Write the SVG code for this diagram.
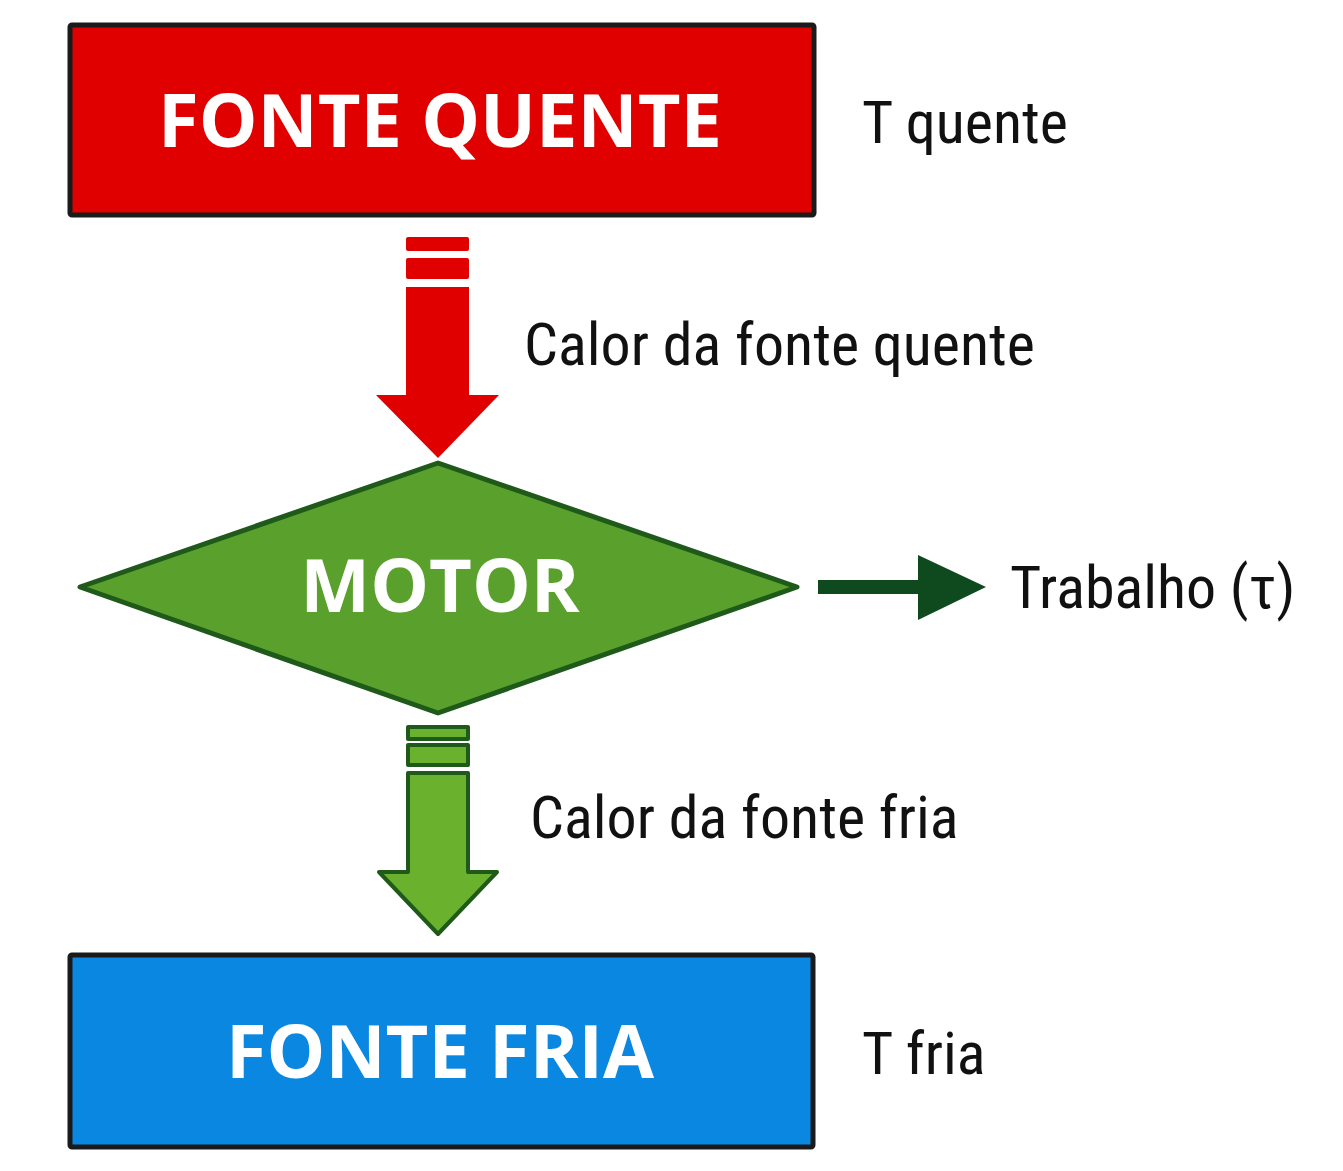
<svg xmlns="http://www.w3.org/2000/svg" width="1343" height="1171" viewBox="0 0 1343 1171">
<style>
.lbl{font-family:"Roboto Condensed","Liberation Sans Narrow","Liberation Sans",sans-serif;font-size:60px;fill:#111}
.nd{font-family:"Open Sans","Liberation Sans",sans-serif;font-weight:bold;fill:#fff;text-anchor:middle}
</style>
<rect width="1343" height="1171" fill="#fff"/>
<g id="fonte-quente">
<rect x="70" y="25" width="744" height="190" fill="#e00000" stroke="#1a1a1a" stroke-width="5" rx="2"/>
<text class="nd" x="440" y="147" font-size="74">FONTE QUENTE</text>
</g>
<g id="motor">
<polygon points="438,463 797,587 438,713 80,587" fill="#5aa02c" stroke="#1f5a1a" stroke-width="5" stroke-linejoin="round"/>
<text class="nd" x="440" y="612" font-size="74">MOTOR</text>
</g>
<g id="fonte-fria">
<rect x="70" y="955" width="743" height="192" fill="#0a87e0" stroke="#1a1a1a" stroke-width="5" rx="2"/>
<text class="nd" x="440" y="1078" font-size="74">FONTE FRIA</text>
</g>
<g id="connectors">
<g fill="#e00000">
<rect x="406" y="237" width="63" height="14" rx="2"/>
<rect x="406" y="258" width="63" height="21" rx="2"/>
<polygon points="406,287 469,287 469,395 499,395 438,458 376,395 406,395"/>
</g>
<g fill="#6ab22e" stroke="#1f5a1a" stroke-width="4" stroke-linejoin="round">
<rect x="408" y="727" width="60" height="12"/>
<rect x="408" y="745" width="60" height="20"/>
<polygon points="408,773 468,773 468,872 497,872 438,934 379,872 408,872"/>
</g>
<g fill="#0f4a1e">
<rect x="818" y="580" width="104" height="14"/>
<polygon points="918,555 986,587 918,620"/>
</g>
</g>
<text class="lbl" x="862" y="143">T quente</text>
<text class="lbl" x="524" y="365">Calor da fonte quente</text>
<text class="lbl" x="1010" y="608">Trabalho (τ)</text>
<text class="lbl" x="530" y="838">Calor da fonte fria</text>
<text class="lbl" x="862" y="1074">T fria</text>
</svg>
